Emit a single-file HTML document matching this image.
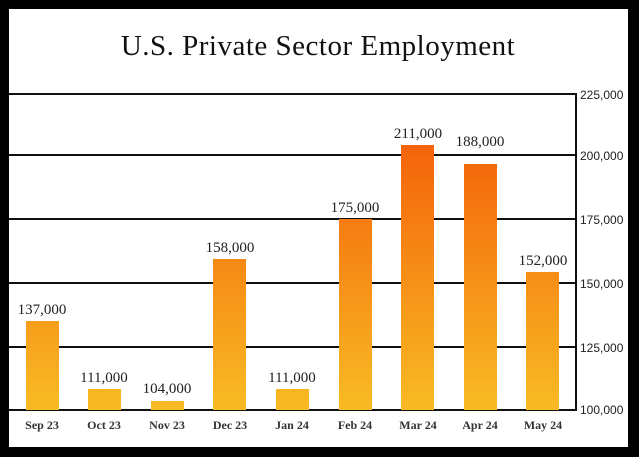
<!DOCTYPE html>
<html><head><style>html,body{margin:0;padding:0;background:#000;}</style></head>
<body>
<svg width="639" height="457" xmlns="http://www.w3.org/2000/svg" style="display:block">
<defs>
<linearGradient id="g" gradientUnits="userSpaceOnUse" x1="0" y1="94" x2="0" y2="410">
<stop offset="0" stop-color="#f45206"/><stop offset="1" stop-color="#f8bb24"/>
</linearGradient>
</defs>
<rect x="0" y="0" width="639" height="457" fill="#000"/>
<rect x="9" y="9" width="619" height="438" fill="#fff"/>
<text x="318" y="55" text-anchor="middle" font-family="Liberation Serif, serif" font-size="29" fill="#111" letter-spacing="0.5">U.S. Private Sector Employment</text>
<g stroke="#111" stroke-width="2">
<line x1="9" y1="94" x2="577" y2="94"/>
<line x1="9" y1="155" x2="577" y2="155"/>
<line x1="9" y1="219" x2="577" y2="219"/>
<line x1="9" y1="283" x2="577" y2="283"/>
<line x1="9" y1="347" x2="577" y2="347"/>
<line x1="9" y1="410" x2="577" y2="410"/>
<line x1="576" y1="94" x2="576" y2="410"/>
</g>
<g font-family="Liberation Sans, sans-serif" font-size="12" fill="#222">
<text x="580" y="99">225,000</text><text x="580" y="160">200,000</text><text x="580" y="224">175,000</text>
<text x="580" y="288">150,000</text><text x="580" y="352">125,000</text><text x="580" y="414">100,000</text>
</g>
<g fill="url(#g)">
<rect x="26" y="321" width="33" height="89"/>
<rect x="88" y="389" width="33" height="21"/>
<rect x="151" y="401" width="33" height="9"/>
<rect x="213" y="259" width="33" height="151"/>
<rect x="276" y="389" width="33" height="21"/>
<rect x="339" y="219" width="33" height="191"/>
<rect x="401" y="145" width="33" height="265"/>
<rect x="464" y="164" width="33" height="246"/>
<rect x="526" y="272" width="33" height="138"/>
</g>
<g font-family="Liberation Serif, serif" font-size="15" fill="#222" text-anchor="middle">
<text x="42" y="314">137,000</text><text x="104" y="382">111,000</text><text x="167" y="393">104,000</text>
<text x="230" y="252">158,000</text><text x="292" y="382">111,000</text><text x="355" y="212">175,000</text>
<text x="418" y="138">211,000</text><text x="480" y="146">188,000</text><text x="543" y="265">152,000</text>
</g>
<g font-family="Liberation Serif, serif" font-size="12" font-weight="bold" fill="#333" text-anchor="middle">
<text x="42" y="429">Sep 23</text><text x="104" y="429">Oct 23</text><text x="167" y="429">Nov 23</text>
<text x="230" y="429">Dec 23</text><text x="292" y="429">Jan 24</text><text x="355" y="429">Feb 24</text>
<text x="418" y="429">Mar 24</text><text x="480" y="429">Apr 24</text><text x="543" y="429">May 24</text>
</g>
</svg>
</body></html>
